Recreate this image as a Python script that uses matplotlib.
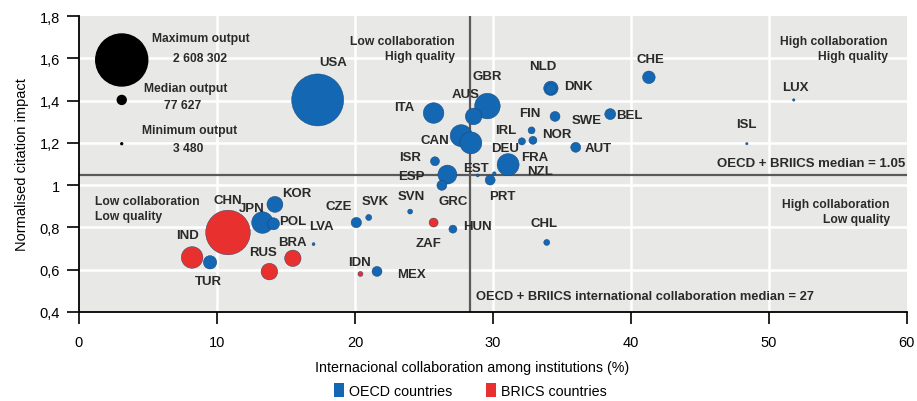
import matplotlib
matplotlib.use("Agg")
import matplotlib.pyplot as plt
from matplotlib.patches import Patch
from matplotlib.ticker import FuncFormatter

plt.rcParams['font.family'] = ['Liberation Sans', 'DejaVu Sans']

# country, collaboration (%), normalised citation impact, output, group
countries = ['USA', 'CHN', 'IND', 'TUR', 'RUS', 'BRA', 'JPN', 'POL', 'KOR', 'LVA',
             'CZE', 'SVK', 'SVN', 'ZAF', 'HUN', 'IDN', 'MEX', 'CHL', 'ISR', 'ESP',
             'GRC', 'PRT', 'EST', 'FRA', 'NZL', 'CAN', 'DEU', 'AUS', 'GBR', 'ITA',
             'NLD', 'DNK', 'FIN', 'IRL', 'NOR', 'SWE', 'AUT', 'BEL', 'CHE', 'LUX', 'ISL']
collab = [17.3, 10.8, 8.2, 9.5, 13.8, 15.5, 13.3, 14.1, 14.2, 17.0,
          20.1, 21.0, 24.0, 25.7, 27.1, 20.4, 21.6, 33.9, 25.8, 26.7,
          26.3, 29.8, 28.9, 31.1, 30.1, 27.7, 28.4, 28.6, 29.6, 25.7,
          34.2, 34.2, 34.5, 32.8, 32.9, 32.1, 36.0, 38.5, 41.3, 51.8, 48.4]
impact = [1.403, 0.776, 0.658, 0.635, 0.591, 0.654, 0.823, 0.817, 0.909, 0.721,
          0.823, 0.847, 0.875, 0.823, 0.792, 0.580, 0.592, 0.729, 1.113, 1.050,
          0.999, 1.024, 1.046, 1.097, 1.055, 1.234, 1.200, 1.325, 1.374, 1.341,
          1.458, 1.455, 1.325, 1.259, 1.212, 1.207, 1.179, 1.336, 1.510, 1.403, 1.196]
output = [2608302, 1920000, 450000, 173000, 266000, 260000, 450000, 140000, 246000, 8700,
          104000, 35000, 24000, 78000, 62000, 24000, 96000, 35000, 78000, 348000,
          96000, 96000, 8700, 467000, 12000, 467000, 467000, 266000, 632000, 410000,
          200000, 110000, 96000, 47000, 62000, 50000, 96000, 116000, 154000, 6000, 5500]
brics = ['CHN', 'IND', 'RUS', 'BRA', 'ZAF', 'IDN']

# label anchor positions (data units)
label_xy = {
    'USA': (18.4, 1.582), 'ITA': (23.55, 1.370), 'AUS': (28.0, 1.432), 'GBR': (29.6, 1.517),
    'NLD': (33.6, 1.563), 'DNK': (36.2, 1.469), 'CHE': (41.45, 1.596), 'LUX': (51.9, 1.464),
    'FIN': (32.7, 1.342), 'SWE': (36.8, 1.309), 'BEL': (39.9, 1.333), 'IRL': (30.9, 1.262),
    'NOR': (34.6, 1.243), 'CAN': (25.8, 1.215), 'DEU': (30.9, 1.178), 'AUT': (37.6, 1.178),
    'ISL': (48.4, 1.291), 'ISR': (24.0, 1.135), 'FRA': (33.0, 1.135), 'EST': (28.8, 1.083),
    'NZL': (33.4, 1.065), 'ESP': (24.1, 1.044), 'GRC': (27.1, 0.923), 'SVN': (24.1, 0.947),
    'CZE': (18.85, 0.900), 'SVK': (21.45, 0.923), 'HUN': (28.85, 0.806), 'ZAF': (25.3, 0.726),
    'IDN': (20.3, 0.636), 'MEX': (24.1, 0.580), 'CHL': (33.7, 0.822), 'PRT': (30.7, 0.947),
    'KOR': (15.8, 0.961), 'CHN': (10.8, 0.932), 'JPN': (12.55, 0.890), 'POL': (15.5, 0.829),
    'LVA': (17.6, 0.806), 'BRA': (15.45, 0.730), 'RUS': (13.35, 0.683), 'IND': (7.85, 0.763),
    'TUR': (9.4, 0.547),
}

size_values = [2608302, 77627, 3480]
size_names = ['Maximum output', 'Median output', 'Minimum output']
size_labels = ['2 608 302', '77 627', '3 480']

median_impact = 1.05
median_collab_pos = 28.35  # where the line sits in the source figure (label says 27)

BLUE = '#1467b3'
RED = '#e8312e'
S_MAX = (2 * 26 * 0.72) ** 2


def bubble(v):
    return v * S_MAX / 2608302


fig = plt.figure(figsize=(9.17, 4.02), dpi=100)
ax = fig.add_axes([0.0861, 0.2214, 0.9029, 0.7363])
ax.set_facecolor('#e8e8e7')
ax.set_xlim(0, 60)
ax.set_ylim(0.4, 1.8)

for gx in range(10, 60, 10):
    ax.axvline(gx, color='white', lw=1.8, zorder=0)
for gy in [0.6, 0.8, 1.0, 1.2, 1.4, 1.6]:
    ax.axhline(gy, color='white', lw=1.8, zorder=0)

ax.axhline(median_impact, color='#5a5a5a', lw=1.6, zorder=1)
ax.axvline(median_collab_pos, color='#5a5a5a', lw=1.6, zorder=1)

# bubbles, biggest first so small ones stay visible
order = sorted(range(len(countries)), key=lambda i: -output[i])
xs = [collab[i] for i in order]
ys = [impact[i] for i in order]
ss = [bubble(output[i]) for i in order]
cs = [RED if countries[i] in brics else BLUE for i in order]
ax.scatter(xs, ys, s=ss, c=cs, edgecolors='#1a3f6a', linewidths=0.3, zorder=3)

for name in countries:
    lx, ly = label_xy[name]
    ax.text(lx, ly, name, ha='center', va='center', fontsize=9.5, fontweight='bold',
            color='#2a2a2a', zorder=4)

# size legend
leg_x = 3.1
leg_y = [1.592, 1.403, 1.196]
ax.scatter([leg_x] * 3, leg_y, s=[bubble(v) for v in size_values], c='black', zorder=3)
name_xy = [(8.8, 1.695), (7.7, 1.460), (8.05, 1.262)]
val_xy = [(8.8, 1.601), (7.5, 1.380), (7.9, 1.177)]
for nm, lb, (nx, ny), (vx, vy) in zip(size_names, size_labels, name_xy, val_xy):
    ax.text(nx, ny, nm, ha='center', va='center', fontsize=8.7, fontweight='bold', color='#2a2a2a')
    ax.text(vx, vy, lb, ha='center', va='center', fontsize=8.7, fontweight='bold', color='#2a2a2a')

# quadrant notes
qkw = dict(fontweight='bold', color='#2a2a2a', va='center', linespacing=1.35)
ax.text(27.25, 1.646, 'Low collaboration\nHigh quality', ha='right', multialignment='right',
        fontsize=8.7, **qkw)
ax.text(58.6, 1.648, 'High collaboration\nHigh quality', ha='right', multialignment='right',
        fontsize=8.7, **qkw)
ax.text(1.16, 0.890, 'Low collaboration\nLow quality', ha='left', multialignment='left',
        fontsize=8.7, **qkw)
ax.text(58.75, 0.876, 'High collaboration\nLow quality', ha='right', multialignment='right',
        fontsize=8.7, **qkw)
ax.text(59.85, 1.105, 'OECD + BRIICS median = 1.05', ha='right', fontsize=9.5, **qkw)
ax.text(28.8, 0.478, 'OECD + BRIICS international collaboration median = 27', ha='left',
        fontsize=9.3, **qkw)

ax.set_xticks(range(0, 61, 10))
ax.set_yticks([0.4, 0.6, 0.8, 1.0, 1.2, 1.4, 1.6, 1.8])


def comma_fmt(v, pos):
    s = ('%.1f' % v).rstrip('0').rstrip('.')
    return s.replace('.', ',')


ax.yaxis.set_major_formatter(FuncFormatter(comma_fmt))
ax.tick_params(axis='x', length=8.5, width=1.2, pad=8, labelsize=10.5, color='black')
ax.tick_params(axis='y', length=8.5, width=1.2, pad=5, labelsize=10.5, color='black')
for sp in ['top', 'right']:
    ax.spines[sp].set_visible(False)
for sp in ['left', 'bottom']:
    ax.spines[sp].set_linewidth(1.3)

ax.set_ylabel('Normalised citation impact', fontsize=10.5, labelpad=8)
fig.text(0.515, 0.085, 'Internacional collaboration among institutions (%)',
         ha='center', va='center', fontsize=10.3)

handles = [Patch(facecolor=BLUE, label='OECD countries'),
           Patch(facecolor=RED, label='BRICS countries')]
fig.legend(handles=handles, loc='center', bbox_to_anchor=(0.513, 0.027), ncol=2,
           frameon=False, fontsize=10.3, handlelength=0.7, handleheight=1.1,
           handletextpad=0.3, columnspacing=2.4)

fig.savefig('out.png', dpi=100)
